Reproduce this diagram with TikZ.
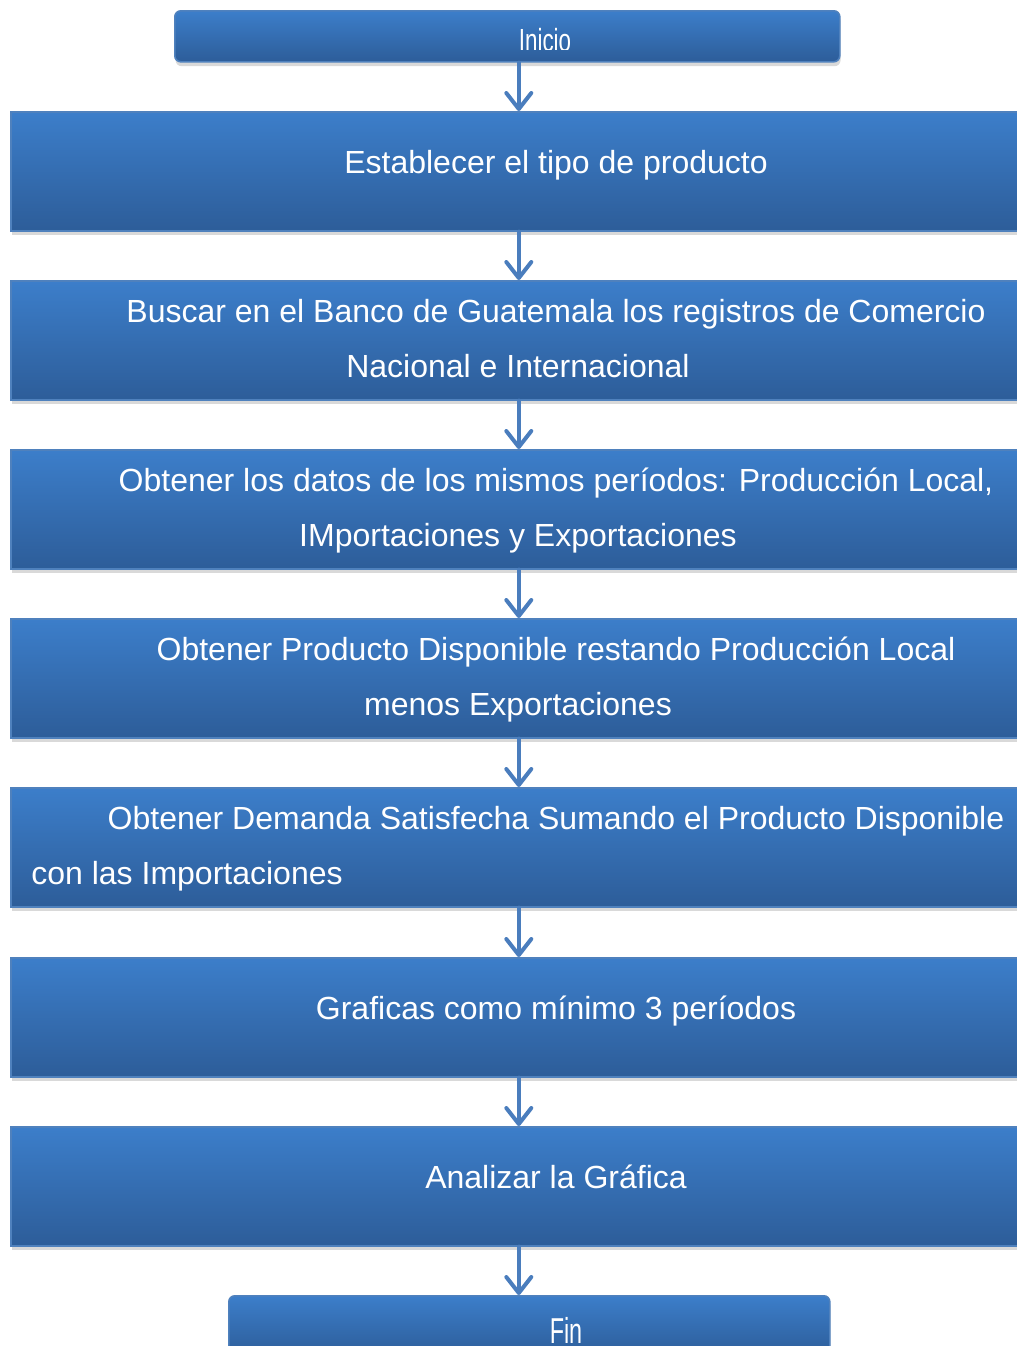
\documentclass[tikz,border=0pt]{standalone}
\usepackage{fontspec}
\setmainfont{Liberation Sans}
\usetikzlibrary{arrows.meta,shadows}
\definecolor{boxtop}{RGB}{60,126,202}
\definecolor{boxbot}{RGB}{45,93,153}
\definecolor{boxedge}{RGB}{79,129,189}
\definecolor{arrowc}{RGB}{74,125,189}
\tikzset{
  stepbox/.style={rectangle, inner sep=0pt, minimum width=508pt, minimum height=59.5pt,
    top color=boxtop, bottom color=boxbot, draw=boxedge, line width=0.8pt,
    drop shadow={shadow xshift=0.4pt, shadow yshift=-2.2pt, opacity=0.3},
    anchor=north west},
  endbox/.style={rectangle, rounded corners=3pt, inner sep=0pt,
    top color=boxtop, bottom color=boxbot, draw=boxedge, line width=0.8pt,
    drop shadow={shadow xshift=0.4pt, shadow yshift=-2.2pt, opacity=0.3},
    anchor=north west},
  steptext/.style={text=white, font=\fontsize{16}{16}\selectfont, inner sep=0pt, anchor=base},
  flow/.style={draw=arrowc, line width=2pt, line cap=round,
    -{Straight Barb[length=8pt,width=12.5pt,round]}}
}
\begin{document}
\begin{tikzpicture}[x=0.5pt,y=-0.5pt]
\useasboundingbox (0,0) rectangle (1017,1346);
\clip (0,0) rectangle (1017,1346);

% boxes
\node[endbox, minimum width=332.5pt, minimum height=25.5pt] (ini) at (174,10) {};
\node[stepbox] (b1) at (10,111) {};
\node[stepbox] (b2) at (10,280) {};
\node[stepbox] (b3) at (10,449) {};
\node[stepbox] (b4) at (10,618) {};
\node[stepbox] (b5) at (10,787) {};
\node[stepbox] (b6) at (10,957) {};
\node[stepbox] (b7) at (10,1126) {};
\node[endbox, minimum width=300.5pt, minimum height=30pt] (fin) at (228,1295) {};

% texts
\begin{scope}
  \clip (174,10) rectangle (839,49);
  \node[steptext] (tini) at (545,51) {\scalebox{0.7}[1]{Inicio}};
\end{scope}
\node[steptext] (t1) at (556,173) {Establecer el tipo de producto};
\node[steptext] (t2a) at (556,322) {Buscar en el Banco de Guatemala los registros de Comercio};
\node[steptext] (t2b) at (518,377) {Nacional e Internacional};
\node[steptext] (t3a) at (556,491) {Obtener los datos de los mismos períodos: Producción Local,};
\node[steptext] (t3b) at (518,546) {IMportaciones y Exportaciones};
\node[steptext] (t4a) at (556,660) {Obtener Producto Disponible restando Producción Local};
\node[steptext] (t4b) at (518,715) {menos Exportaciones};
\node[steptext] (t5a) at (556,829) {Obtener Demanda Satisfecha Sumando el Producto Disponible};
\node[steptext, anchor=base west] (t5b) at (31,884) {con las Importaciones};
\node[steptext] (t6) at (556,1019) {Graficas como mínimo 3 períodos};
\node[steptext] (t7) at (556,1188) {Analizar la Gráfica};
\node[steptext, font=\fontsize{18}{18}\selectfont] (tfin) at (566,1343) {\scalebox{0.65}[1]{Fin}};

% connectors
\draw[flow] (ini.south -| b1.north) -- (b1.north);
\draw[flow] (b1.south) -- (b2.north);
\draw[flow] (b2.south) -- (b3.north);
\draw[flow] (b3.south) -- (b4.north);
\draw[flow] (b4.south) -- (b5.north);
\draw[flow] (b5.south) -- (b6.north);
\draw[flow] (b6.south) -- (b7.north);
\draw[flow] (b7.south) -- (b7.south |- fin.north);
\end{tikzpicture}
\end{document}
